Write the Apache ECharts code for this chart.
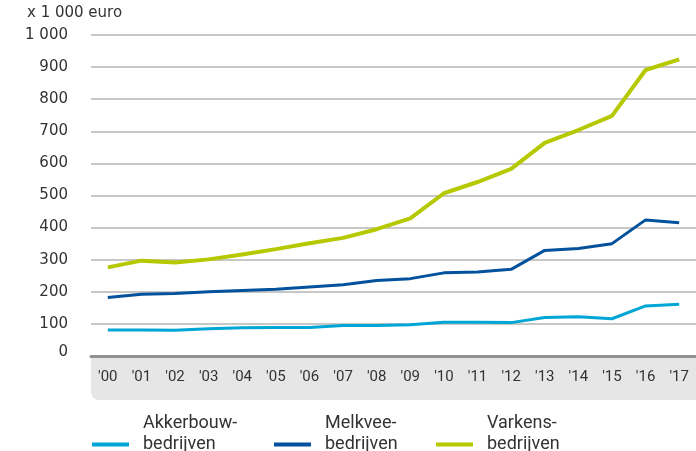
<!DOCTYPE html>
<html>
<head>
<meta charset="utf-8">
<script src="https://cdn.jsdelivr.net/npm/echarts@6/dist/echarts.min.js"></script>
<style>
  html, body { margin: 0; padding: 0; background: #fff; }
  #main { width: 696px; height: 451px; }
</style>
</head>
<body>
<div id="main"></div>
<script>
// jaren
var years = ["'00", "'01", "'02", "'03", "'04", "'05", "'06", "'07", "'08", "'09",
             "'10", "'11", "'12", "'13", "'14", "'15", "'16", "'17"];

// x 1 000 euro
var akkerbouw = [81, 81, 80, 85, 88, 89, 89, 95, 95, 97, 105, 105, 104, 120, 122, 116, 156, 161];
var melkvee   = [182, 192, 195, 200, 204, 208, 215, 222, 235, 241, 259, 262, 270, 329, 335, 350, 424, 415];
var varkens   = [276, 297, 291, 301, 316, 333, 351, 368, 395, 429, 507, 542, 583, 664, 704, 748, 891, 924];

var seriesNames = ['Akkerbouw-\nbedrijven', 'Melkvee-\nbedrijven', 'Varkens-\nbedrijven'];
var colors = ['#00a6d6', '#01519c', '#b5c800'];

var narrow = "'Liberation Sans Narrow', 'Roboto', sans-serif";

var chart = echarts.init(document.getElementById('main'));

// one legend per item so each can sit where it sits in the original
function legendAt(name, x) {
    return {
        data: [name],
        left: x,
        top: 413,
        padding: 0,
        icon: 'rect',
        itemWidth: 37,
        itemHeight: 4,
        selectedMode: false,
        // extra empty line so the icon lines up with the 2nd line
        formatter: function (n) { return n + '\n{s| }'; },
        textStyle: {
            fontFamily: narrow,
            fontSize: 18,
            color: '#333',
            lineHeight: 21,
            padding: [0, 0, 0, 9],
            rich: { s: { lineHeight: 21, fontSize: 10 } }
        }
    };
}

var option = {
    animation: false,
    color: colors,
    title: {
        text: 'x 1 000 euro',
        left: 27,
        top: 6,
        padding: 0,
        textStyle: { fontFamily: 'DejaVu Sans', fontSize: 15, fontWeight: 'normal', color: '#333' }
    },
    legend: [
        legendAt(seriesNames[0], 92),
        legendAt(seriesNames[1], 274),
        legendAt(seriesNames[2], 436)
    ],
    graphic: [{
        type: 'rect',
        left: 91,
        top: 357,
        z: -1,
        shape: { width: 605, height: 43, r: [0, 0, 0, 8] },
        style: { fill: '#e6e6e6' }
    }],
    grid: { left: 91, right: 0, top: 35, bottom: 95 },
    xAxis: {
        type: 'category',
        data: years,
        boundaryGap: true,
        axisLine: { lineStyle: { color: '#919191', width: 3 } },
        axisTick: { alignWithLabel: true, length: 8, lineStyle: { color: '#a0a0a0', width: 1.5 } },
        axisLabel: { fontFamily: narrow, fontSize: 15, color: '#333', margin: 14 }
    },
    yAxis: {
        type: 'value',
        min: 0,
        max: 1000,
        interval: 100,
        axisLine: { show: false },
        axisTick: { show: false },
        splitLine: { lineStyle: { color: '#b4b4b4', width: 1.5 } },
        axisLabel: {
            fontFamily: 'DejaVu Sans',
            fontSize: 15,
            color: '#333',
            margin: 23,
            formatter: function (v) {
                if (v === 0) return '{z|0}';
                return v >= 1000 ? '1 000' : String(v);
            },
            rich: { z: { fontFamily: 'DejaVu Sans', fontSize: 15, color: '#333', padding: [0, 0, 8, 0] } }
        }
    },
    series: [
        { name: seriesNames[0], type: 'line', data: akkerbouw, symbol: 'none', lineStyle: { width: 3 } },
        { name: seriesNames[1], type: 'line', data: melkvee, symbol: 'none', lineStyle: { width: 3 } },
        { name: seriesNames[2], type: 'line', data: varkens, symbol: 'none', lineStyle: { width: 4 } }
    ]
};

chart.setOption(option);
</script>
</body>
</html>
